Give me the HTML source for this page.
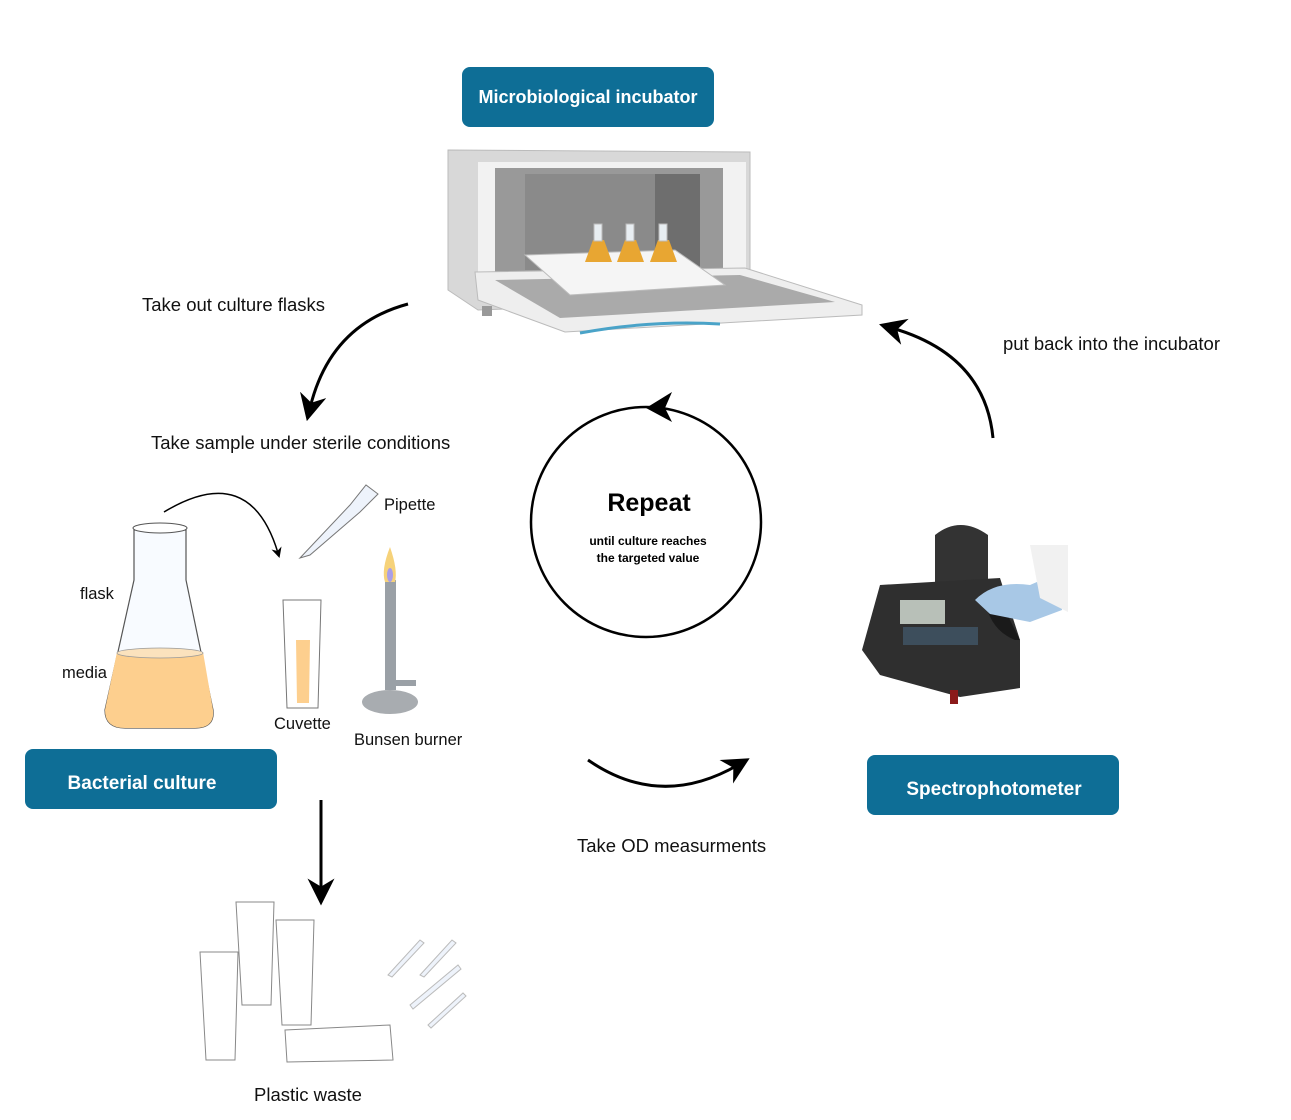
<!DOCTYPE html>
<html><head><meta charset="utf-8"><style>
html,body{margin:0;padding:0;background:#fff}
svg{display:block}
text{font-family:"Liberation Sans",sans-serif}
</style></head><body>
<svg width="1291" height="1120" viewBox="0 0 1291 1120" xmlns="http://www.w3.org/2000/svg">
<defs>
<marker id="ah" viewBox="0 0 10 10" refX="5" refY="5" markerWidth="9" markerHeight="9" orient="auto-start-reverse"><path d="M0,0 L10,5 L0,10 L3,5z" fill="#000"/></marker>
<marker id="ahs" viewBox="0 0 10 10" refX="5" refY="5" markerWidth="7" markerHeight="7" orient="auto-start-reverse"><path d="M0,0 L10,5 L0,10 L3,5z" fill="#000"/></marker>
</defs>
<!-- label boxes -->
<rect x="462" y="67" width="252" height="60" rx="8" fill="#0e6e96"/>
<text x="588" y="103" font-size="18" font-weight="bold" fill="#fff" text-anchor="middle">Microbiological incubator</text>
<rect x="25" y="749" width="252" height="60" rx="8" fill="#0e6e96"/>
<text x="142" y="789" font-size="19" font-weight="bold" fill="#fff" text-anchor="middle">Bacterial culture</text>
<rect x="867" y="755" width="252" height="60" rx="8" fill="#0e6e96"/>
<text x="994" y="795" font-size="19" font-weight="bold" fill="#fff" text-anchor="middle">Spectrophotometer</text>

<!-- incubator -->
<path d="M448,150 L750,152 L750,300 L478,310 L448,290Z" fill="#d8d8d8" stroke="#bbb"/>
<rect x="478" y="162" width="268" height="112" fill="#f2f2f2"/>
<rect x="495" y="168" width="228" height="104" fill="#999"/>
<rect x="525" y="174" width="175" height="96" fill="#8a8a8a"/>
<rect x="655" y="174" width="45" height="96" fill="#6e6e6e"/>
<path d="M475,272 L745,268 L862,305 L862,315 L565,332 L478,300Z" fill="#eee" stroke="#bbb"/>
<path d="M495,280 L740,275 L835,302 L560,318Z" fill="#aaa"/>
<path d="M525,255 L675,250 L725,285 L570,295Z" fill="#f5f5f5" stroke="#bbb"/>
<g fill="#e8a632"><path d="M585,262 l8,-22 l11,0 l8,22z"/><path d="M617,262 l8,-22 l11,0 l8,22z"/><path d="M650,262 l8,-22 l11,0 l8,22z"/></g>
<g fill="#e8eef2" stroke="#bbb"><rect x="594" y="224" width="8" height="17"/><rect x="626" y="224" width="8" height="17"/><rect x="659" y="224" width="8" height="17"/></g>
<path d="M580,333 Q650,320 720,324" stroke="#4aa3c8" stroke-width="3" fill="none"/>
<rect x="482" y="306" width="10" height="10" fill="#999"/>

<!-- text labels -->
<g font-size="18.5" fill="#111">
<text x="142" y="311">Take out culture flasks</text>
<text x="151" y="449">Take sample under sterile conditions</text>
<text x="1003" y="350">put back into the incubator</text>
<text x="577" y="852">Take OD measurments</text>
<text x="254" y="1101">Plastic waste</text>
</g>
<g font-size="16.5" fill="#111">
<text x="80" y="599">flask</text>
<text x="62" y="678">media</text>
<text x="384" y="510">Pipette</text>
<text x="274" y="729">Cuvette</text>
<text x="354" y="745">Bunsen burner</text>
</g>

<!-- arrows -->
<g fill="none" stroke="#000" stroke-width="3">
<path d="M408,304 Q330,325 310,408" marker-end="url(#ah)"/>
<path d="M993,438 Q985,355 892,328" marker-end="url(#ah)"/>
<path d="M588,760 Q660,810 738,765" marker-end="url(#ah)"/>
<path d="M321,800 L321,892" marker-end="url(#ah)"/>
<path d="M164,512 Q250,460 278,553" stroke-width="1.5" marker-end="url(#ahs)"/>
<circle cx="646" cy="522" r="115" stroke-width="2.5"/>
</g>
<path d="M646,408 l26,-16 l-7,16 l7,14z" fill="#000"/>
<text x="649" y="511" font-size="25" font-weight="bold" text-anchor="middle">Repeat</text>
<text x="648" y="545" font-size="12" font-weight="bold" text-anchor="middle">until culture reaches</text>
<text x="648" y="562" font-size="12" font-weight="bold" text-anchor="middle">the targeted value</text>

<!-- flask -->
<path d="M134,530 L134,580 L105,710 Q105,728 125,728 L195,728 Q215,728 213,710 L186,580 L186,530Z" fill="#f8fbff" stroke="#555" stroke-width="1.2"/>
<ellipse cx="160" cy="528" rx="27" ry="5" fill="#fff" stroke="#555"/>
<path d="M117,652 L203,652 L213,710 Q215,728 195,728 L125,728 Q105,728 105,710Z" fill="#fdcf8e"/>
<ellipse cx="160" cy="653" rx="43" ry="5" fill="#fbe2bd" stroke="#999" stroke-width="0.8"/>
<!-- cuvette -->
<path d="M283,600 L321,600 L318,708 L287,708Z" fill="#fff" stroke="#777"/>
<path d="M296,640 L310,640 L309,703 L297,703Z" fill="#fdcf8e"/>
<!-- pipette -->
<path d="M300,558 L350,505 L366,485 L378,494 L360,512 L310,555Z" fill="#eef3fb" stroke="#777"/>
<!-- bunsen -->
<ellipse cx="390" cy="702" rx="28" ry="12" fill="#a8acb0"/>
<rect x="385" y="580" width="11" height="110" fill="#9aa0a6"/>
<rect x="396" y="680" width="20" height="6" fill="#9aa0a6"/>
<path d="M390,547 Q381,570 385,582 L395,582 Q398,570 390,547Z" fill="#f6d27a"/>
<ellipse cx="390" cy="575" rx="3" ry="7" fill="#a99ee8"/>

<!-- waste -->
<g fill="#fff" stroke="#888" stroke-width="1">
<path d="M200,952 L238,952 L235,1060 L206,1060Z"/>
<path d="M236,902 L274,902 L271,1005 L242,1005Z"/>
<path d="M276,920 L314,920 L311,1025 L282,1025Z"/>
<path d="M285,1030 L390,1025 L393,1060 L287,1062Z"/>
</g>
<g fill="#eef3fb" stroke="#bbb"><path d="M388,975 l32,-35 l4,3 l-32,34z"/><path d="M420,975 l32,-35 l4,3 l-32,34z"/><path d="M410,1005 l48,-40 l3,4 l-48,40z"/><path d="M428,1025 l35,-32 l3,3 l-35,32z"/></g>

<!-- spectrophotometer -->
<path d="M935,585 L935,535 Q960,515 988,535 L988,585Z" fill="#333"/>
<path d="M880,585 L1000,578 L1020,640 L1020,688 L960,697 L880,675 L862,650 Z" fill="#2f2f2f"/>
<path d="M985,600 Q990,630 1015,640 L1020,640 L1000,600Z" fill="#1a1a1a"/>
<rect x="900" y="600" width="45" height="24" fill="#b8c0b8"/>
<rect x="903" y="627" width="75" height="18" fill="#3d4e5c"/>
<rect x="950" y="690" width="8" height="14" fill="#8b1a1a"/>
<path d="M975,600 Q995,580 1030,585 L1060,572 L1062,610 L1030,622 L990,614Z" fill="#a8c8e6"/>
<path d="M1030,545 L1068,545 L1068,612 L1040,598Z" fill="#f1f1f1"/>
</svg>
</body></html>
